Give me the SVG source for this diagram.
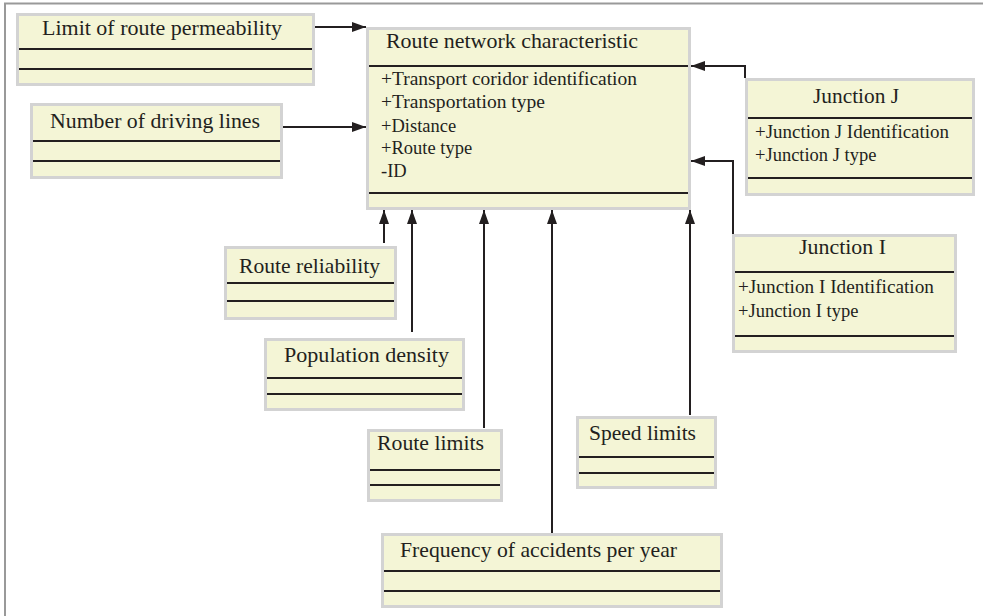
<svg xmlns="http://www.w3.org/2000/svg" width="983" height="616" viewBox="0 0 983 616">
<style>
.box{fill:#f4f5d6;stroke:#d3d3d3;stroke-width:3}
.sep{stroke:#231f20;stroke-width:2}
.t{font-family:"Liberation Serif","Times New Roman",serif;font-size:21px;fill:#231f20}
.a{font-family:"Liberation Serif","Times New Roman",serif;font-size:18.5px;fill:#231f20}
.c{fill:none;stroke:#231f20;stroke-width:2}
</style>
<defs>
<marker id="arr" markerUnits="userSpaceOnUse" markerWidth="14" markerHeight="10" refX="14" refY="5" orient="auto">
<path d="M0,0 L14,5 L0,10 z" fill="#231f20"/>
</marker>
</defs>
<rect x="5" y="3.5" width="1000" height="700" fill="#fff" stroke="#999" stroke-width="2"/>

<g id="limit-permeability">
<rect class="box" x="17.5" y="14.5" width="296" height="70"/>
<line class="sep" x1="19" y1="49" x2="312" y2="49"/>
<line class="sep" x1="19" y1="69" x2="312" y2="69"/>
<text class="t" x="42" y="35" textLength="240" lengthAdjust="spacingAndGlyphs">Limit of route permeability</text>
</g>

<g id="driving-lines">
<rect class="box" x="31.5" y="104.5" width="250" height="73"/>
<line class="sep" x1="33" y1="141" x2="280" y2="141"/>
<line class="sep" x1="33" y1="161" x2="280" y2="161"/>
<text class="t" x="50" y="128" textLength="210" lengthAdjust="spacingAndGlyphs">Number of driving lines</text>
</g>

<g id="route-network">
<rect class="box" x="367.5" y="28.5" width="322" height="180"/>
<line class="sep" x1="369" y1="66" x2="688" y2="66"/>
<line class="sep" x1="369" y1="193" x2="688" y2="193"/>
<text class="t" x="386" y="48" textLength="252" lengthAdjust="spacingAndGlyphs">Route network characteristic</text>
<text class="a" x="381" y="85" textLength="256" lengthAdjust="spacingAndGlyphs">+Transport coridor identification</text>
<text class="a" x="381" y="108" textLength="164" lengthAdjust="spacingAndGlyphs">+Transportation type</text>
<text class="a" x="381" y="132">+Distance</text>
<text class="a" x="381" y="154">+Route type</text>
<text class="a" x="381" y="177">-ID</text>
</g>

<g id="junction-j">
<rect class="box" x="746.5" y="79.5" width="227" height="115"/>
<line class="sep" x1="748" y1="118" x2="972" y2="118"/>
<line class="sep" x1="748" y1="178" x2="972" y2="178"/>
<text class="t" x="813" y="103" textLength="86" lengthAdjust="spacingAndGlyphs">Junction J</text>
<text class="a" x="755" y="138" textLength="194" lengthAdjust="spacingAndGlyphs">+Junction J Identification</text>
<text class="a" x="755" y="161">+Junction J type</text>
</g>

<g id="junction-i">
<rect class="box" x="733.5" y="235.5" width="222" height="116"/>
<line class="sep" x1="735" y1="272" x2="954" y2="272"/>
<line class="sep" x1="735" y1="336" x2="954" y2="336"/>
<text class="t" x="799" y="254" textLength="87" lengthAdjust="spacingAndGlyphs">Junction I</text>
<text class="a" x="738" y="293" textLength="196" lengthAdjust="spacingAndGlyphs">+Junction I Identification</text>
<text class="a" x="738" y="317">+Junction I type</text>
</g>

<g id="route-reliability">
<rect class="box" x="225.5" y="247.5" width="170" height="71"/>
<line class="sep" x1="227" y1="283" x2="394" y2="283"/>
<line class="sep" x1="227" y1="301" x2="394" y2="301"/>
<text class="t" x="239" y="273" textLength="141" lengthAdjust="spacingAndGlyphs">Route reliability</text>
</g>

<g id="population-density">
<rect class="box" x="265.5" y="339.5" width="198" height="70"/>
<line class="sep" x1="267" y1="378" x2="462" y2="378"/>
<line class="sep" x1="267" y1="394" x2="462" y2="394"/>
<text class="t" x="284" y="362" textLength="165" lengthAdjust="spacingAndGlyphs">Population density</text>
</g>

<g id="route-limits">
<rect class="box" x="368.5" y="430.5" width="133" height="70"/>
<line class="sep" x1="370" y1="470" x2="500" y2="470"/>
<line class="sep" x1="370" y1="485" x2="500" y2="485"/>
<text class="t" x="377" y="450" textLength="107" lengthAdjust="spacingAndGlyphs">Route limits</text>
</g>

<g id="speed-limits">
<rect class="box" x="577.5" y="417.5" width="138" height="70"/>
<line class="sep" x1="579" y1="457" x2="714" y2="457"/>
<line class="sep" x1="579" y1="473" x2="714" y2="473"/>
<text class="t" x="589" y="440" textLength="107" lengthAdjust="spacingAndGlyphs">Speed limits</text>
</g>

<g id="accident-frequency">
<rect class="box" x="382.5" y="534.5" width="339" height="72"/>
<line class="sep" x1="384" y1="571" x2="720" y2="571"/>
<line class="sep" x1="384" y1="591" x2="720" y2="591"/>
<text class="t" x="400" y="557" textLength="277" lengthAdjust="spacingAndGlyphs">Frequency of accidents per year</text>
</g>

<g id="connectors">
<path class="c" d="M315,27 H366" marker-end="url(#arr)"/>
<path class="c" d="M283,127 H366" marker-end="url(#arr)"/>
<path class="c" d="M745,78 V66 H691" marker-end="url(#arr)"/>
<path class="c" d="M733,234 V161 H691" marker-end="url(#arr)"/>
<path class="c" d="M384,243 V210" marker-end="url(#arr)"/>
<path class="c" d="M412,332 V210" marker-end="url(#arr)"/>
<path class="c" d="M484,428 V210" marker-end="url(#arr)"/>
<path class="c" d="M552,533 V210" marker-end="url(#arr)"/>
<path class="c" d="M690,415 V210" marker-end="url(#arr)"/>
</g>
</svg>
